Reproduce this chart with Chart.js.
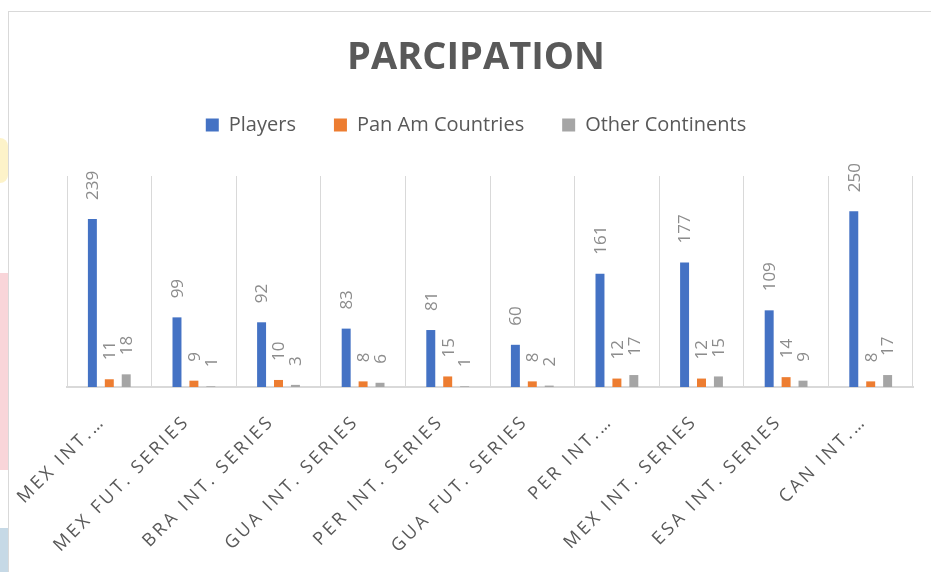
<!DOCTYPE html>
<html>
<head>
<meta charset="utf-8">
<script src="https://cdn.jsdelivr.net/npm/chart.js@4.4.1/dist/chart.umd.min.js"></script>
<style>
  html, body { margin: 0; padding: 0; background: #fff; overflow: hidden; }
  body { width: 931px; height: 572px; position: relative; }
  .patch { position: absolute; left: 0; width: 8px; }
  #box {
    position: absolute; left: 8px; top: 11px; width: 934px; height: 561px;
    border-left: 1px solid #d9d9d9; border-top: 1px solid #d9d9d9; background: #fff;
  }
  #chart { display: block; }
</style>
</head>
<body>
<div class="patch" style="top:138px;height:45px;background:#fdf3c9;border-radius:0 20px 20px 0;"></div>
<div class="patch" style="top:273px;height:197px;background:#f9d5d9;"></div>
<div class="patch" style="top:528px;height:44px;background:#c6d9e6;"></div>
<div id="box"><canvas id="chart" width="934" height="560"></canvas></div>
<script>
(function () {
    'use strict';
    var categories = ['MEX INT.\u2026', 'MEX FUT. SERIES', 'BRA INT. SERIES', 'GUA INT. SERIES', 'PER INT. SERIES',
        'GUA FUT. SERIES', 'PER INT.\u2026', 'MEX INT. SERIES', 'ESA INT. SERIES', 'CAN INT.\u2026'];
    var players = [239, 99, 92, 83, 81, 60, 161, 177, 109, 250];
    var panAm = [11, 9, 10, 8, 15, 8, 12, 12, 14, 8];
    var otherContinents = [18, 1, 3, 6, 1, 2, 17, 15, 9, 17];

    var textGrey = '#595959';
    var gridGrey = '#d9d9d9';
    var font = 'Open Sans';

    // values above the bars, turned to read bottom-to-top
    var barLabels = {
        id: 'barLabels',
        afterDatasetsDraw: function (chart) {
            var ctx = chart.ctx;
            ctx.save();
            ctx.fillStyle = '#8c8c8c';
            ctx.font = '17px "' + font + '"';
            ctx.textAlign = 'left';
            ctx.textBaseline = 'middle';
            chart.data.datasets.forEach(function (ds, i) {
                chart.getDatasetMeta(i).data.forEach(function (bar, j) {
                    ctx.save();
                    ctx.translate(bar.x, bar.y - 19);
                    ctx.rotate(-Math.PI / 2);
                    ctx.fillText(String(ds.data[j]), 0, 1);
                    ctx.restore();
                });
            });
            ctx.restore();
        }
    };

    // spaced-out category labels, and a gap under the legend
    var tweaks = {
        id: 'tweaks',
        beforeLayout: function (chart) {
            var lg = chart.legend;
            if (lg && !lg._tall) {
                lg._tall = true;
                var fit = lg.fit;
                lg.fit = function () {
                    fit.call(this);
                    this.height += 31;
                };
            }
        },
        afterLayout: function (chart) {
            var sc = chart.scales.x;
            if (sc._spaced) return;
            sc._spaced = true;
            var orig = sc.drawLabels;
            sc.drawLabels = function (area) {
                chart.ctx.save();
                chart.ctx.letterSpacing = '3px';
                orig.call(this, area);
                chart.ctx.restore();
            };
        }
    };

    new Chart(document.getElementById('chart'), {
        type: 'bar',
        data: {
            labels: categories,
            datasets: [
                { label: 'Players', data: players, backgroundColor: '#4472c4' },
                { label: 'Pan Am Countries', data: panAm, backgroundColor: '#ed7d31' },
                { label: 'Other Continents', data: otherContinents, backgroundColor: '#a5a5a5' }
            ]
        },
        options: {
            responsive: false,
            animation: false,
            events: [],
            datasets: { bar: { categoryPercentage: 0.6, barPercentage: 0.53 } },
            layout: { padding: { top: 27, left: 30, right: 30, bottom: 0 } },
            plugins: {
                tooltip: { enabled: false },
                title: {
                    display: true,
                    text: 'PARCIPATION',
                    color: textGrey,
                    font: { family: font, size: 38, weight: 'bold', lineHeight: 1 },
                    padding: { top: 0, bottom: 0 }
                },
                legend: {
                    position: 'top',
                    labels: {
                        color: textGrey,
                        font: { family: font, size: 20 },
                        boxWidth: 13,
                        boxHeight: 13,
                        padding: 38
                    }
                }
            },
            scales: {
                x: {
                    grid: { color: gridGrey, drawTicks: false },
                    border: { color: gridGrey, width: 2 },
                    ticks: {
                        color: textGrey,
                        font: { family: font, size: 18 },
                        minRotation: 45,
                        maxRotation: 45,
                        autoSkip: false,
                        labelOffset: -7,
                        padding: 24
                    },
                    afterFit: function (s) { s.height = 185; }
                },
                y: {
                    min: 0,
                    max: 300,
                    ticks: { display: false },
                    grid: { display: false },
                    border: { display: false },
                    afterFit: function (s) { s.width = 28; }
                }
            }
        },
        plugins: [barLabels, tweaks]
    });
})();
</script>
</body>
</html>
